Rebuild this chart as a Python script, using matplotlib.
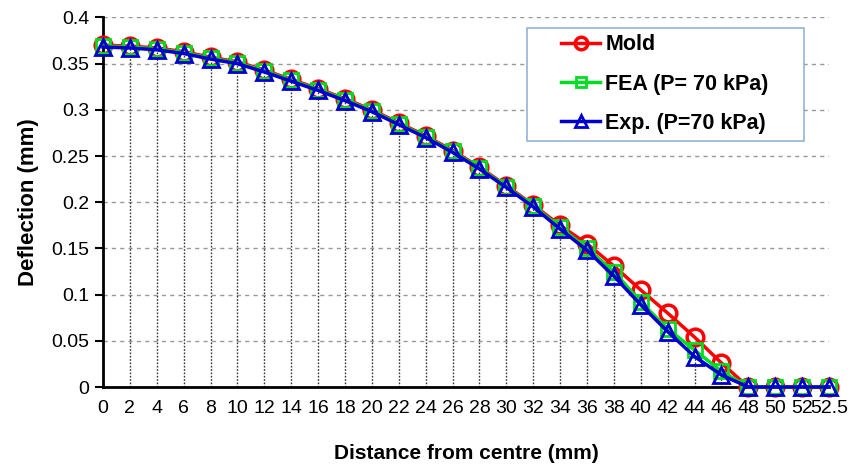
import matplotlib
matplotlib.use('Agg')
import matplotlib.pyplot as plt
from matplotlib.patches import Rectangle
import numpy as np

# distance from centre (mm) - plotted as evenly spaced categories
distance = ['0', '2', '4', '6', '8', '10', '12', '14', '16', '18', '20', '22', '24', '26',
            '28', '30', '32', '34', '36', '38', '40', '42', '44', '46', '48', '50', '52', '52.5']

mold = [0.370, 0.369, 0.367, 0.363, 0.357, 0.352, 0.343, 0.333, 0.323, 0.312, 0.300, 0.286,
        0.272, 0.256, 0.238, 0.218, 0.197, 0.175, 0.155, 0.131, 0.105, 0.080, 0.054, 0.026,
        0.0, 0.0, 0.0, 0.0]
fea = [0.369, 0.368, 0.366, 0.362, 0.356, 0.351, 0.342, 0.332, 0.322, 0.311, 0.299, 0.285,
       0.271, 0.255, 0.237, 0.217, 0.196, 0.173, 0.150, 0.125, 0.092, 0.063, 0.040, 0.017,
       0.0, 0.0, 0.0, 0.0]
exp = [0.368, 0.367, 0.365, 0.361, 0.355, 0.350, 0.341, 0.331, 0.321, 0.310, 0.298, 0.284,
       0.270, 0.254, 0.236, 0.216, 0.195, 0.171, 0.148, 0.120, 0.089, 0.060, 0.033, 0.013,
       0.0, 0.0, 0.0, 0.0]

plt.rcParams['font.family'] = ['Liberation Sans', 'DejaVu Sans']

W, H = 863, 465
fig = plt.figure(figsize=(W / 100, H / 100), dpi=100)
ax = fig.add_axes([0.1194, 0.1677, 0.8412, 0.7947])

x = np.arange(len(distance))

# drop lines from the points to the axis
ax.vlines(x, 0, exp, colors='#333333', linestyles=(0, (1.2, 1.2)), linewidth=1.0, zorder=1)

ax.plot(x, mold, color='#ff0000', lw=2.5, marker='o', ms=12, mfc='none', mew=2.5,
        label='Mold', zorder=3, clip_on=False)
ax.plot(x, fea, color='#00dd22', lw=2.5, marker='s', ms=10, mfc='none', mew=2.0,
        label='FEA (P= 70 kPa)', zorder=4, clip_on=False)
ax.plot(x, exp, color='#0000cc', lw=2.5, marker='^', ms=11, mfc='none', mew=2.0,
        label='Exp. (P=70 kPa)', zorder=5, clip_on=False)

ax.set_xlim(0, len(distance) - 1)
ax.set_ylim(0, 0.4)
ax.set_xticks(x)
ax.set_xticklabels(distance)
ax.set_yticks(np.arange(0, 0.41, 0.05))
ax.set_yticklabels(['0', '0.05', '0.1', '0.15', '0.2', '0.25', '0.3', '0.35', '0.4'])

ax.yaxis.grid(True, color='#999999', linestyle=(0, (3, 3)), linewidth=1.0)
ax.set_axisbelow(True)

ax.tick_params(axis='y', direction='out', length=6, width=1.5, labelsize=14, pad=4)
ax.tick_params(axis='x', length=0, labelsize=14, pad=9)

for side in ['top', 'right']:
    ax.spines[side].set_visible(False)
for side in ['left', 'bottom']:
    ax.spines[side].set_linewidth(2.0)

ax.set_xlabel('Distance from centre (mm)', fontsize=15, fontweight='bold', labelpad=20)
ax.set_ylabel('Deflection (mm)', fontsize=16, fontweight='bold', labelpad=9)

# legend box (drawn separately so it can be wider than the legend content)
box = Rectangle((527 / W, 1 - 141 / H), 277 / W, 113 / H, transform=fig.transFigure,
                facecolor='white', edgecolor='#95b3d7', linewidth=1.2, zorder=6, clip_on=False)
ax.add_patch(box)

leg = ax.legend(loc='center', bbox_to_anchor=(665 / W, 1 - 84 / H),
                bbox_transform=fig.transFigure,
                prop={'weight': 'bold', 'size': 15.5}, frameon=False,
                markerscale=0.75, handlelength=1.8, labelspacing=0.85,
                borderpad=0, borderaxespad=0, handletextpad=0.25)
leg.set_zorder(7)

fig.savefig('out.png', dpi=100)
